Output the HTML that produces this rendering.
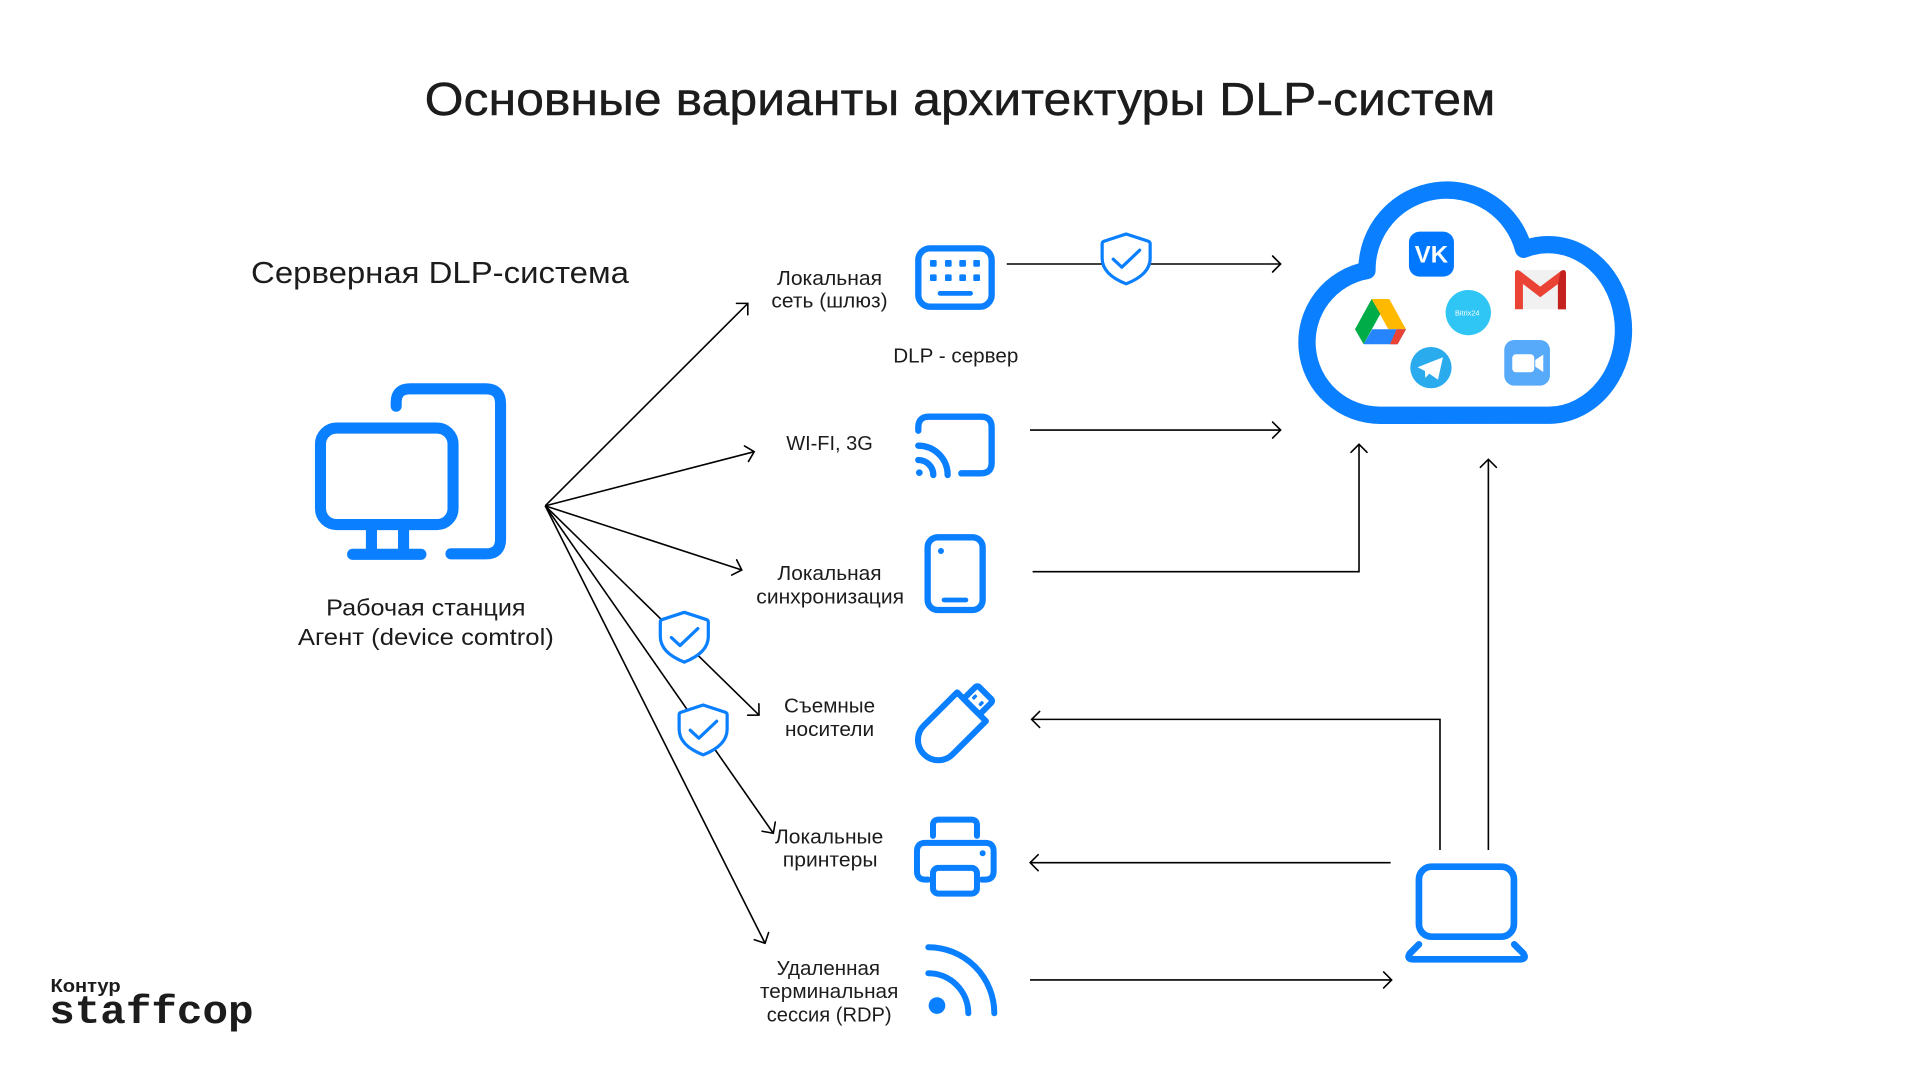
<!DOCTYPE html>
<html><head><meta charset="utf-8">
<style>
html,body{margin:0;padding:0;background:#fff;width:1920px;height:1080px;overflow:hidden}
svg{display:block}
text{font-family:"Liberation Sans","Noto Sans CJK SC",sans-serif;fill:#1c1c1c}
</style></head>
<body>
<svg width="1920" height="1080" viewBox="0 0 1560 877.5" xmlns="http://www.w3.org/2000/svg">
<defs>
<marker id="ar" markerUnits="userSpaceOnUse" viewBox="-9 -9 11 18" refX="0" refY="0" markerWidth="11" markerHeight="18" orient="auto">
<path d="M-6.5,-6.5 L0,0 L-6.5,6.5" fill="none" stroke="#000" stroke-width="1.3" stroke-linecap="round"/>
</marker>
<g id="sh">
<path d="M0,1.3 L18,7.2 Q19.5,7.7 19.5,9.3 L19.5,21 C19.5,31 11,37.5 0,41.8 C-11,37.5 -19.5,31 -19.5,21 L-19.5,9.3 Q-19.5,7.7 -18,7.2 Z" fill="#fff" stroke="#0A7FFF" stroke-width="2.6" stroke-linejoin="round"/>
<path d="M-10.5,21.8 L-3.5,28.3 L11,14.5" fill="none" stroke="#0A7FFF" stroke-width="2.6" stroke-linecap="round" stroke-linejoin="round"/>
</g>
</defs>

<!-- Title -->
<text x="345" y="93.5" font-size="37.5" textLength="870" lengthAdjust="spacingAndGlyphs" style="stroke:#1c1c1c;stroke-width:0.35">Основные варианты архитектуры DLP-систем</text>
<text x="204" y="230" font-size="24.5" textLength="307" lengthAdjust="spacingAndGlyphs">Серверная DLP-система</text>

<!-- Workstation -->
<g fill="none" stroke="#0A7FFF" stroke-width="9">
<rect x="260.4" y="347.8" width="107.7" height="78.4" rx="13"/>
<line x1="301.8" y1="430" x2="301.8" y2="447"/>
<line x1="327.9" y1="430" x2="327.9" y2="447"/>
<line x1="286.5" y1="450.4" x2="342" y2="450.4" stroke-linecap="round"/>
<path d="M321.9,330 V327 Q321.9,315.9 333,315.9 H394.7 Q406.7,315.9 406.7,327.9 V438 Q406.7,450 394.7,450 H366.4" stroke-linecap="round" stroke-linejoin="round"/>
</g>
<text x="346" y="500" font-size="19" text-anchor="middle" textLength="162" lengthAdjust="spacingAndGlyphs">Рабочая станция</text>
<text x="346" y="524" font-size="19" text-anchor="middle" textLength="208" lengthAdjust="spacingAndGlyphs">Агент (device comtrol)</text>

<!-- Fan lines -->
<g stroke="#000" stroke-width="1.3" fill="none" marker-end="url(#ar)">
<line x1="443" y1="411" x2="607.6" y2="246.5"/>
<line x1="443" y1="411" x2="612.8" y2="367"/>
<line x1="443" y1="411" x2="602.7" y2="463.1"/>
<line x1="443" y1="411" x2="616.7" y2="581"/>
<line x1="443" y1="411" x2="628.3" y2="677"/>
<line x1="443" y1="411" x2="621.6" y2="766.4"/>
</g>
<use href="#sh" transform="translate(556,496.2)"/>
<use href="#sh" transform="translate(571.3,571.5)"/>

<!-- Middle labels -->
<g font-size="16.5" text-anchor="middle">
<text x="674" y="231.6" textLength="85.4" lengthAdjust="spacingAndGlyphs">Локальная</text>
<text x="674" y="250" textLength="94.4" lengthAdjust="spacingAndGlyphs">сеть (шлюз)</text>
<text x="776.6" y="294.7" textLength="101.6" lengthAdjust="spacingAndGlyphs">DLP - сервер</text>
<text x="674" y="365.6" textLength="70.4" lengthAdjust="spacingAndGlyphs">WI-FI, 3G</text>
<text x="674" y="471.2" textLength="84.5" lengthAdjust="spacingAndGlyphs">Локальная</text>
<text x="674.5" y="490.2" textLength="120" lengthAdjust="spacingAndGlyphs">синхронизация</text>
<text x="674" y="579" textLength="74" lengthAdjust="spacingAndGlyphs">Съемные</text>
<text x="674" y="598" textLength="72.4" lengthAdjust="spacingAndGlyphs">носители</text>
<text x="673.7" y="685.2" textLength="88" lengthAdjust="spacingAndGlyphs">Локальные</text>
<text x="674.5" y="704.2" textLength="77" lengthAdjust="spacingAndGlyphs">принтеры</text>
<text x="673" y="792.2" textLength="84" lengthAdjust="spacingAndGlyphs">Удаленная</text>
<text x="673.7" y="811" textLength="112.4" lengthAdjust="spacingAndGlyphs">терминальная</text>
<text x="673.7" y="830" textLength="101.5" lengthAdjust="spacingAndGlyphs">сессия (RDP)</text>
</g>

<!-- Icons top three (zoom5 coords) -->
<g transform="translate(617.5,186.9) scale(0.2708)" stroke="#0A7FFF" fill="none" stroke-width="19" stroke-linecap="round" stroke-linejoin="round">
<rect x="475" y="55" width="220" height="175" rx="35"/>
<g fill="#0A7FFF" stroke="none">
<rect x="510" y="90" width="20" height="20" rx="4"/><rect x="555" y="90" width="20" height="20" rx="4"/><rect x="598" y="90" width="20" height="20" rx="4"/><rect x="640" y="90" width="20" height="20" rx="4"/>
<rect x="510" y="133" width="20" height="20" rx="4"/><rect x="555" y="133" width="20" height="20" rx="4"/><rect x="598" y="133" width="20" height="20" rx="4"/><rect x="640" y="133" width="20" height="20" rx="4"/>
</g>
<line x1="540" y1="190" x2="632" y2="190" stroke-width="14"/>
<path d="M475,602 V592 Q475,560 507,560 H663 Q695,560 695,592 V698 Q695,730 663,730 H604"/>
<path d="M475,690 A45,45 0 0 1 520,735"/>
<path d="M475,647 A88,88 0 0 1 563,735"/>
<circle cx="478" cy="728" r="10" fill="#0A7FFF" stroke="none"/>
<rect x="503" y="922" width="165" height="218" rx="30"/>
<circle cx="543" cy="963" r="9" fill="#0A7FFF" stroke="none"/>
<line x1="552" y1="1110" x2="618" y2="1110" stroke-width="14"/>
</g>

<!-- Icons bottom three (zoom6 coords) -->
<g transform="translate(617.5,536.2) scale(0.2708)" stroke="#0A7FFF" fill="none" stroke-width="18" stroke-linecap="round" stroke-linejoin="round">
<g transform="translate(535,240) rotate(-45)">
<path d="M0,-61 H141 V61 H0 A61,61 0 0 1 0,-61 Z"/>
<rect x="141" y="-33.5" width="58" height="67" rx="8"/>
<rect x="160" y="-19" width="16" height="10" rx="3" fill="#0A7FFF" stroke="none"/>
<rect x="160" y="9" width="16" height="10" rx="3" fill="#0A7FFF" stroke="none"/>
</g>
<path d="M519,528 V496 Q519,479 536,479 H634 Q651,479 651,496 V528"/>
<path d="M505,659 H496 Q471,659 471,634 V574 Q471,549 496,549 H676 Q701,549 701,574 V634 Q701,659 676,659 H665"/>
<rect x="519" y="624" width="132" height="77" rx="16"/>
<circle cx="668" cy="580" r="9" fill="#0A7FFF" stroke="none"/>
<path d="M505,940 A120,120 0 0 1 625,1060"/>
<path d="M505,862 A198,198 0 0 1 703,1060"/>
<circle cx="531" cy="1037" r="25" fill="#0A7FFF" stroke="none"/>
</g>

<!-- Right side lines -->
<g stroke="#000" stroke-width="1.3" fill="none" marker-end="url(#ar)">
<path d="M818,214.5 H1040.5"/>
<path d="M836.9,349.4 H1040.5"/>
<path d="M839,464.5 H1104.2 V361"/>
<path d="M1170,690.6 V584.5 H838.2"/>
<path d="M1209.3,690.6 V373.2"/>
<path d="M1129.9,700.9 H837"/>
<path d="M836.9,796.2 H1130.7"/>
</g>
<use href="#sh" transform="translate(915,188.8)"/>

<!-- Laptop (zoom9 coords) -->
<g transform="translate(1121.2,674.4) scale(0.2708)" stroke="#0A7FFF" fill="none" stroke-width="20" stroke-linecap="round" stroke-linejoin="round">
<rect x="117" y="110" width="285" height="210" rx="38"/>
<path d="M117,343 L90,370 Q78,388 102,388 H418 Q442,388 430,370 L403,343"/>
</g>

<!-- Cloud (zoom4 coords) -->
<g transform="translate(1048.1,138.1) scale(0.2708)">
<path d="M270,736 A219,219 0 0 1 231,301.5 A239,239 0 0 1 701,238 A226,256 0 1 1 778,736 Z" fill="#fff" stroke="#0A7FFF" stroke-width="52" stroke-linejoin="round"/>
<!-- VK -->
<rect x="357" y="185" width="135" height="135" rx="32" fill="#0077FF"/>
<text x="424.5" y="278" font-size="72" font-weight="bold" text-anchor="middle" style="fill:#fff">VK</text>
<!-- Gmail -->
<rect x="675" y="300" width="153" height="118" rx="10" fill="#F1F1F1"/>
<path d="M675,312 V418 H699 V342 L751,382 L804,342 V418 H828 V312 Q828,294 812,304 L751,350 L691,304 Q675,294 675,312 Z" fill="#EA4335"/>
<path d="M804,342 V418 H828 V312 Q828,294 812,304 Z" fill="#C5221F"/>
<!-- Bitrix -->
<circle cx="535" cy="428" r="68" fill="#2FC6F6"/>
<text x="532" y="436" font-size="22" text-anchor="middle" style="fill:#fff">Bitrix24</text>
<!-- Drive -->
<polygon points="245,387 298,387 348,478 295,478" fill="#FFBA00"/>
<polygon points="245,387 271,432 221,523 195,478" fill="#00AC47"/>
<polygon points="221,523 323,523 348,478 247,478" fill="#2684FC"/>
<polygon points="323,523 348,478 320,478 300,523" fill="#EA4335"/>
<!-- Telegram -->
<circle cx="423" cy="593" r="62" fill="#2AABEE"/>
<path d="M383,592 L459,562 L444,629 L418,611 L406,624 L405,603 Z" fill="#fff"/>
<!-- Zoom -->
<rect x="643" y="510" width="137" height="137" rx="30" fill="#57A9FA"/>
<rect x="667" y="553" width="66" height="54" rx="11" fill="#fff"/>
<path d="M736,570 L760,554 V606 L736,590 Z" fill="#fff"/>
</g>

<!-- Logo -->
<text x="41" y="806" font-size="15" font-weight="bold" textLength="57" lengthAdjust="spacingAndGlyphs">Контур</text>
<text x="40" y="831" font-size="32" font-weight="bold" textLength="166" lengthAdjust="spacingAndGlyphs" style="font-family:'Liberation Mono',monospace">staffcop</text>
</svg>
</body></html>
